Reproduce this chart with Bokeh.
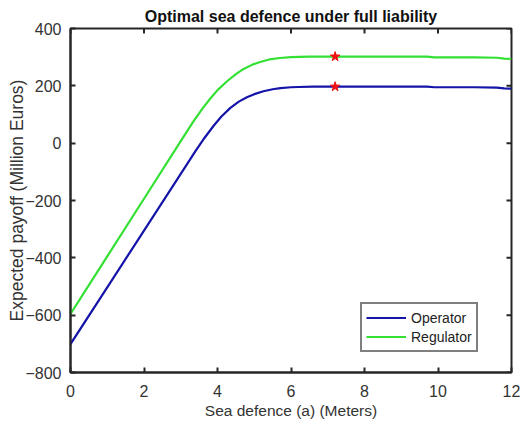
from bokeh.plotting import figure
from bokeh.models import Legend, LegendItem, Range1d, FixedTicker
from bokeh.embed import file_html
from bokeh.resources import INLINE

# Sea defence height (m) and expected payoffs (million euros)
a_op = [0, 1, 2, 3, 3.4, 3.65, 3.89, 4.1, 4.35, 4.58, 4.8, 5.0, 5.25, 5.5, 5.71,
        6.0, 6.2, 6.6, 7.2, 8, 9, 9.7, 9.9, 11, 11.6, 11.8, 12]
operator = [-701, -503, -305, -107, -28, 19, 60, 92, 123, 145, 160, 171, 181, 188,
            192, 195, 196, 197, 197, 197, 197, 197, 195, 195, 194, 191, 190]
a_rg = [0, 1, 2, 3, 3.35, 3.6, 3.8, 4.0, 4.26, 4.5, 4.71, 4.95, 5.16, 5.41, 5.7,
        6.0, 6.5, 7.2, 8, 9, 9.7, 9.9, 11, 11.6, 11.8, 12]
regulator = [-596, -395, -194, 7, 77, 122, 155, 185, 216, 241, 259, 274, 283, 292,
             297, 300, 302, 302, 302, 302, 302, 299, 299, 298, 295, 294]
opt_a = [7.2, 7.2]
opt_val = [197, 302]
x_ticks = [0, 2, 4, 6, 8, 10, 12]
y_ticks = [-800, -600, -400, -200, 0, 200, 400]

FONT = "Liberation Sans"
TXT = "#262626"

p = figure(width=522, height=427, output_backend="svg", toolbar_location=None,
           x_range=Range1d(0, 12), y_range=Range1d(-800, 400),
           min_border_left=70, min_border_right=11, min_border_top=28,
           min_border_bottom=55, title="Optimal sea defence under full liability")
p.title.align = "center"
p.title.text_font = FONT
p.title.text_font_size = "16px"
p.title.text_font_style = "bold"
p.title.text_color = "#111111"
p.title.offset = 0
p.title.standoff = 7

p.xgrid.visible = False
p.ygrid.visible = False
p.outline_line_color = TXT
p.outline_line_width = 2

for ax, ticks in ((p.xaxis[0], x_ticks), (p.yaxis[0], y_ticks)):
    ax.ticker = FixedTicker(ticks=ticks)
    ax.major_tick_in = 5
    ax.major_tick_out = 0
    ax.minor_tick_line_color = None
    ax.axis_line_color = TXT
    ax.axis_line_width = 2
    ax.major_tick_line_color = TXT
    ax.major_tick_line_width = 2
    ax.major_label_text_font = FONT
    ax.major_label_text_font_size = "16px"
    ax.major_label_text_color = "#333333"
    ax.axis_label_text_font = FONT
    ax.axis_label_text_font_size = "15.5px"
    ax.axis_label_text_font_style = "normal"
    ax.axis_label_text_color = "#333333"

p.xaxis[0].axis_label = "Sea defence (a) (Meters)"
p.xaxis[0].major_label_standoff = 12
p.xaxis[0].axis_label_standoff = 2
p.yaxis[0].axis_label = "Expected payoff (Million Euros)"
p.yaxis[0].axis_label_text_font_size = "17.5px"
p.yaxis[0].major_label_standoff = 9
p.yaxis[0].axis_label_standoff = -5

# inward tick marks on the top and right edges of the box (about 5 px long)
tick_dy = (y_ticks[-1] - y_ticks[0]) * 5 / 344
tick_dx = (x_ticks[-1] - x_ticks[0]) * 5 / 441
p.segment(x0=x_ticks, y0=[y_ticks[-1]] * len(x_ticks), x1=x_ticks,
          y1=[y_ticks[-1] - tick_dy] * len(x_ticks), line_color=TXT, line_width=2)
p.segment(x0=[x_ticks[-1]] * len(y_ticks), y0=y_ticks,
          x1=[x_ticks[-1] - tick_dx] * len(y_ticks), y1=y_ticks,
          line_color=TXT, line_width=2)

r_op = p.line(a_op, operator, line_color="#1414a8", line_width=2.2)
r_rg = p.line(a_rg, regulator, line_color="#33e033", line_width=2.2)
p.scatter(opt_a, opt_val, marker="star", size=10, fill_color="#ee1111",
          line_color="#ee1111")

legend = Legend(items=[LegendItem(label="Operator", renderers=[r_op]),
                       LegendItem(label="Regulator", renderers=[r_rg])],
                location=(290, 20))
legend.label_text_font = FONT
legend.label_text_font_size = "14px"
legend.label_text_color = "#222222"
legend.border_line_color = "#000000"
legend.border_line_width = 2
legend.glyph_width = 40
legend.glyph_height = 19
legend.label_height = 19
legend.label_standoff = 5
legend.spacing = 0
legend.padding = 4
legend.margin = 0
p.add_layout(legend, "center")

open("out.html", "w").write(file_html(p, INLINE))
